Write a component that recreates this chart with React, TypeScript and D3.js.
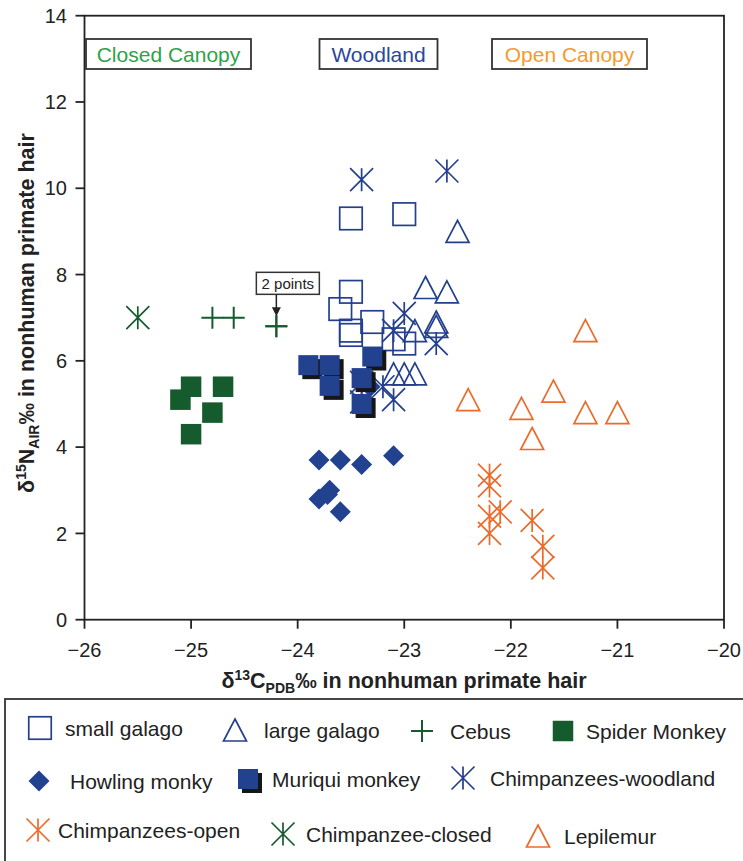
import React from "react";
import * as d3 from "d3";

// ---------- data ----------
const smallGalago: [number, number][] = [
  [-23.5, 9.3], [-23.0, 9.4], [-23.5, 7.6], [-23.6, 7.2], [-23.3, 6.9],
  [-23.5, 6.7], [-23.5, 6.6], [-23.1, 6.5], [-23.0, 6.4],
];
const largeGalago: [number, number][] = [
  [-22.5, 9.0], [-22.8, 7.7], [-22.6, 7.6], [-22.9, 6.7], [-22.7, 6.9],
  [-22.7, 6.8], [-23.1, 5.7], [-23.0, 5.7], [-22.9, 5.7],
];
const cebus: [number, number][] = [[-24.8, 7.0], [-24.6, 7.0], [-24.2, 6.8], [-24.2, 6.8]];
const spiderMonkey: [number, number][] = [
  [-25.1, 5.1], [-25.0, 5.4], [-24.7, 5.4], [-24.8, 4.8], [-25.0, 4.3],
];
const chimpWoodland: [number, number][] = [
  [-23.4, 10.2], [-22.6, 10.4], [-23.0, 7.1], [-23.1, 6.7], [-22.7, 6.4],
  [-23.2, 5.4], [-23.1, 5.1], [-23.4, 5.5], [-23.4, 5.05],
];
const howlingMonkey: [number, number][] = [
  [-23.8, 3.7], [-23.6, 3.7], [-23.4, 3.6], [-23.1, 3.8], [-23.8, 2.8],
  [-23.7, 3.0], [-23.72, 2.9], [-23.6, 2.5], [-23.32, 5.4],
];
const muriquiMonkey: [number, number][] = [
  [-23.9, 5.9], [-23.7, 5.9], [-23.7, 5.42], [-23.3, 6.1], [-23.4, 5.6], [-23.4, 5.0],
];
const chimpOpen: [number, number][] = [
  [-22.2, 3.35], [-22.2, 3.1], [-22.1, 2.5], [-22.2, 2.4], [-22.2, 2.0],
  [-21.8, 2.3], [-21.7, 1.7], [-21.7, 1.2],
];
const chimpClosed: [number, number][] = [[-25.5, 7.0]];
const lepilemur: [number, number][] = [
  [-21.3, 6.7], [-22.4, 5.1], [-21.9, 4.9], [-21.6, 5.3], [-21.3, 4.8], [-21.0, 4.8], [-21.8, 4.2],
];

const xTicks = [-26, -25, -24, -23, -22, -21, -20];
const yTicks = [0, 2, 4, 6, 8, 10, 12, 14];
const habitatLabels = ["Closed Canopy", "Woodland", "Open Canopy"];

// ---------- styles ----------
const BLUE = "#233f8e";
const DGREEN = "#155b2e";
const ORANGE = "#ee6a2b";
const FONT = "'Liberation Sans', Arial, Helvetica, sans-serif";
const INK = "#222";

type Kind = "square" | "triangle" | "plus" | "fsquare" | "diamond" | "shadowsq" | "asterisk";

function Marker({ kind, cx, cy, color }: { kind: Kind; cx: number; cy: number; color: string }) {
  const sw = 1.7;
  switch (kind) {
    case "square": {
      const s = 22.5;
      return <rect x={cx - s / 2} y={cy - s / 2} width={s} height={s} fill="none" stroke={color} strokeWidth={sw} />;
    }
    case "triangle": {
      const w = 23, h = 22;
      return (
        <path
          d={`M${cx},${cy - h / 2}L${cx + w / 2},${cy + h / 2}L${cx - w / 2},${cy + h / 2}Z`}
          fill="none" stroke={color} strokeWidth={sw} strokeLinejoin="miter"
        />
      );
    }
    case "plus": {
      const a = 11;
      return <path d={`M${cx - a},${cy}H${cx + a}M${cx},${cy - a}V${cy + a}`} stroke={color} strokeWidth={2} fill="none" />;
    }
    case "fsquare": {
      const s = 20.5;
      return <rect x={cx - s / 2} y={cy - s / 2} width={s} height={s} fill={color} />;
    }
    case "diamond": {
      const a = 10.5;
      return <path d={`M${cx},${cy - a}L${cx + a},${cy}L${cx},${cy + a}L${cx - a},${cy}Z`} fill={color} />;
    }
    case "shadowsq": {
      const s = 20;
      return (
        <g>
          <rect x={cx - s / 2 + 4} y={cy - s / 2 + 4} width={s} height={s} fill="#161616" />
          <rect x={cx - s / 2} y={cy - s / 2} width={s} height={s} fill={color} />
        </g>
      );
    }
    case "asterisk": {
      const a = 11.5;
      return (
        <path
          d={`M${cx - a},${cy - a}L${cx + a},${cy + a}M${cx + a},${cy - a}L${cx - a},${cy + a}M${cx},${cy - a}V${cy + a}`}
          stroke={color} strokeWidth={sw} fill="none"
        />
      );
    }
  }
  return null;
}

const series: { name: string; data: [number, number][]; kind: Kind; color: string }[] = [
  { name: "small galago", data: smallGalago, kind: "square", color: BLUE },
  { name: "large galago", data: largeGalago, kind: "triangle", color: BLUE },
  { name: "Cebus", data: cebus, kind: "plus", color: DGREEN },
  { name: "Spider Monkey", data: spiderMonkey, kind: "fsquare", color: DGREEN },
  { name: "Chimpanzees-woodland", data: chimpWoodland, kind: "asterisk", color: BLUE },
  { name: "Howling monky", data: howlingMonkey, kind: "diamond", color: "#22418f" },
  { name: "Muriqui monkey", data: muriquiMonkey, kind: "shadowsq", color: "#22418f" },
  { name: "Chimpanzees-open", data: chimpOpen, kind: "asterisk", color: ORANGE },
  { name: "Chimpanzee-closed", data: chimpClosed, kind: "asterisk", color: DGREEN },
  { name: "Lepilemur", data: lepilemur, kind: "triangle", color: ORANGE },
];

// legend layout (x of marker, y of row, x of text)
const legendLayout: Record<string, { mx: number; my: number; tx: number }> = {
  "small galago": { mx: 40, my: 728, tx: 65 },
  "large galago": { mx: 235, my: 730, tx: 264 },
  "Cebus": { mx: 422, my: 731, tx: 450 },
  "Spider Monkey": { mx: 563, my: 731, tx: 586 },
  "Howling monky": { mx: 39, my: 781, tx: 70 },
  "Muriqui monkey": { mx: 248, my: 779, tx: 272 },
  "Chimpanzees-woodland": { mx: 463, my: 778, tx: 490 },
  "Chimpanzees-open": { mx: 38, my: 830, tx: 58 },
  "Chimpanzee-closed": { mx: 283, my: 834, tx: 306 },
  "Lepilemur": { mx: 538, my: 836, tx: 564 },
};

export default function App() {
  const W = 743, H = 861;
  const x = d3.scaleLinear().domain([-26, -20]).range([84.5, 724]);
  const y = d3.scaleLinear().domain([0, 14]).range([619.7, 15.7]);
  const fmt = d3.format("d");

  const [x0, x1] = x.range();
  const [yb, yt] = y.range();

  const habitatBoxes = [
    { label: habitatLabels[0], x: 86, w: 165, color: "#2ea24a" },
    { label: habitatLabels[1], x: 319.5, w: 118, color: "#2a479a" },
    { label: habitatLabels[2], x: 492, w: 155, color: "#f59b2a" },
  ];

  const twoPx = x(cebus[2][0]);
  const twoPy = y(cebus[2][1]);

  return (
    <svg width={W} height={H} style={{ position: "absolute", left: 0, top: 0, background: "#fff" }} fontFamily={FONT}>
      {/* frame */}
      <rect x={x0} y={yt} width={x1 - x0} height={yb - yt} fill="none" stroke={INK} strokeWidth={1.8} />

      {/* y axis ticks */}
      {yTicks.map((t) => (
        <g key={"y" + t}>
          <line x1={x0 - 9} x2={x0} y1={y(t)} y2={y(t)} stroke={INK} strokeWidth={1.8} />
          <text x={67} y={y(t)} dy="0.36em" textAnchor="end" fontSize={20} fill={INK}>
            {fmt(t)}
          </text>
        </g>
      ))}
      {/* x axis ticks */}
      {xTicks.map((t) => (
        <g key={"x" + t}>
          <line x1={x(t)} x2={x(t)} y1={yb} y2={yb + 9} stroke={INK} strokeWidth={1.8} />
          <text x={x(t)} y={657} textAnchor="middle" fontSize={20} fill={INK}>
            {fmt(t).replace("-", "\u2212")}
          </text>
        </g>
      ))}

      {/* axis titles */}
      <text x={404} y={688} textAnchor="middle" fontSize={21.5} fontWeight="bold" fill={INK}>
        δ<tspan fontSize={14} dy={-8}>13</tspan>
        <tspan dy={8}>C</tspan>
        <tspan fontSize={14} dy={5}>PDB</tspan>
        <tspan dy={-5}>‰ in nonhuman primate hair</tspan>
      </text>
      <text
        x={34} y={313} textAnchor="middle" fontSize={21.5} fontWeight="bold" fill={INK}
        transform="rotate(-90, 34, 313)"
      >
        δ<tspan fontSize={14} dy={-8}>15</tspan>
        <tspan dy={8}>N</tspan>
        <tspan fontSize={14} dy={5}>AIR</tspan>
        <tspan dy={-5}>‰ in nonhuman primate hair</tspan>
      </text>

      {/* habitat boxes */}
      {habitatBoxes.map((b) => (
        <g key={b.label}>
          <rect x={b.x} y={39} width={b.w} height={30} fill="#fff" stroke="#333" strokeWidth={1.8} />
          <text x={b.x + b.w / 2} y={54} dy="0.36em" textAnchor="middle" fontSize={21} fill={b.color}>
            {b.label}
          </text>
        </g>
      ))}

      {/* points */}
      {series.map((s) => (
        <g key={s.name}>
          {s.data.map((d, i) => (
            <Marker key={i} kind={s.kind} cx={x(d[0])} cy={y(d[1])} color={s.color} />
          ))}
        </g>
      ))}

      {/* 2 points annotation */}
      <g>
        <rect x={twoPx - 20} y={twoPy - 54} width={63} height={22} fill="#fff" stroke="#333" strokeWidth={1.5} />
        <text x={twoPx + 11.5} y={twoPy - 43} dy="0.36em" textAnchor="middle" fontSize={15} fill={INK}>
          2 points
        </text>
        <line x1={twoPx} x2={twoPx} y1={twoPy - 32} y2={twoPy - 17} stroke={INK} strokeWidth={1.5} />
        <path d={`M${twoPx - 4.5},${twoPy - 19}L${twoPx + 4.5},${twoPy - 19}L${twoPx},${twoPy - 10}Z`} fill={INK} />
      </g>

      {/* legend */}
      <rect x={5} y={699} width={800} height={200} fill="none" stroke="#333" strokeWidth={1.8} />
      {series.map((s) => {
        const L = legendLayout[s.name];
        return (
          <g key={"lg" + s.name}>
            <Marker kind={s.kind} cx={L.mx} cy={L.my} color={s.color} />
            <text x={L.tx} y={L.my} dy="0.36em" fontSize={21} fill={INK}>
              {s.name}
            </text>
          </g>
        );
      })}
    </svg>
  );
}
